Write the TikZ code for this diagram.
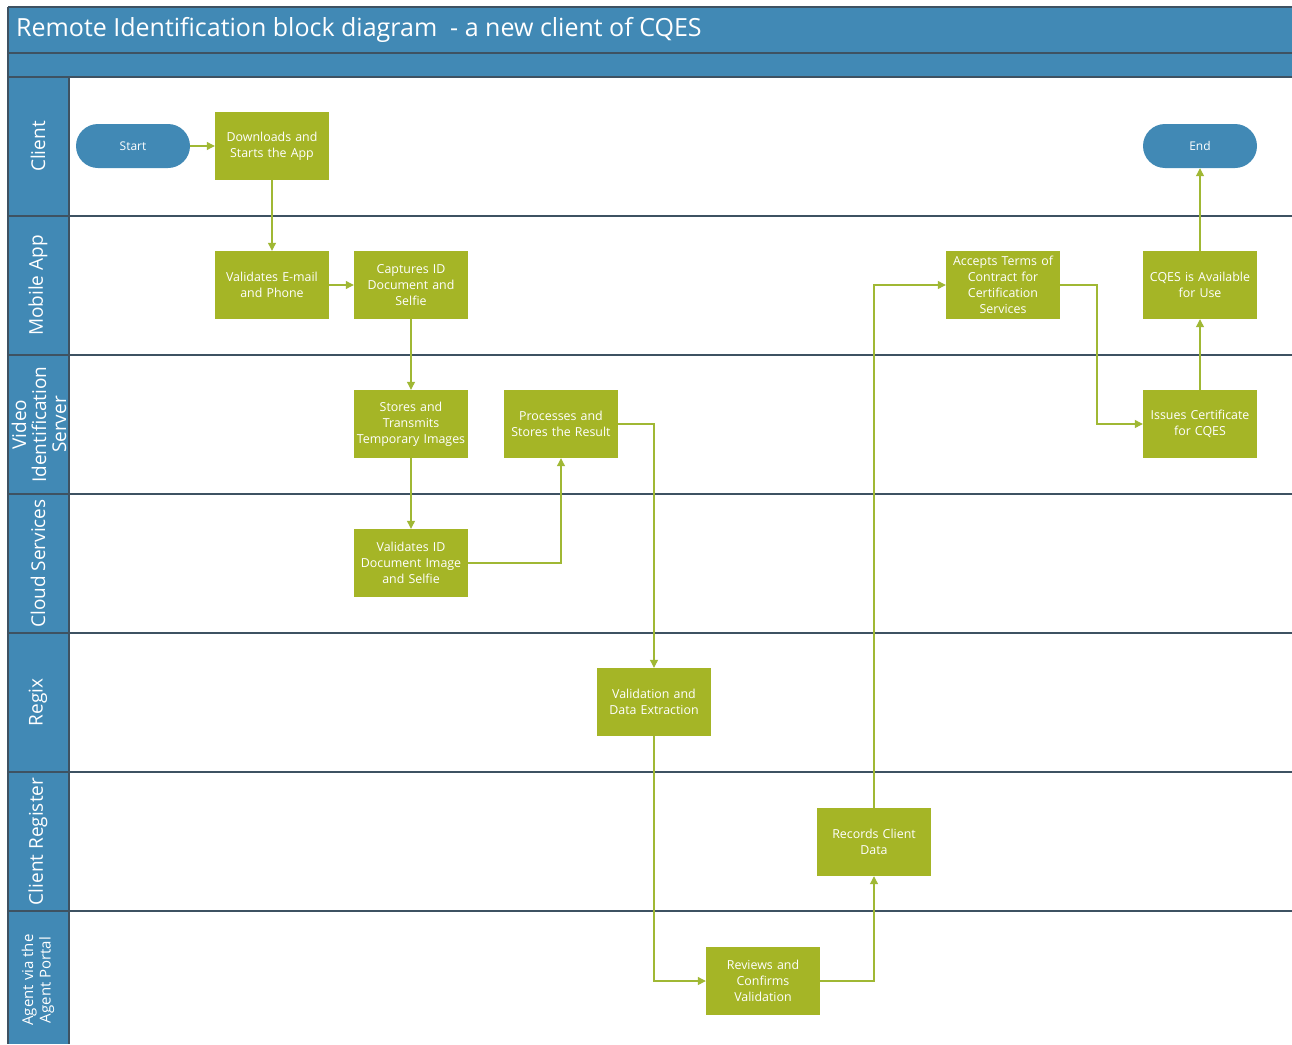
\documentclass[tikz,border=0pt]{standalone}
\usepackage{fontspec}
\setmainfont{Open Sans}
\usetikzlibrary{arrows.meta}
\definecolor{hdrblue}{RGB}{65,137,181}
\definecolor{lanedark}{RGB}{62,82,98}
\definecolor{boxgreen}{RGB}{165,181,38}
\definecolor{linegreen}{RGB}{160,184,52}
\tikzset{
  stepbox/.style={fill=boxgreen, draw=none, text=white, minimum width=114pt, minimum height=68pt, inner sep=1pt, align=center, text width=112pt, font=\fontsize{12.4}{15.8}\selectfont},
  term/.style={fill=hdrblue, draw=none, text=white, minimum width=114pt, minimum height=44pt, rounded corners=22pt, inner sep=0pt, font=\fontsize{12}{14}\selectfont},
  conn/.style={draw=linegreen, line width=1.1pt, -{Triangle[length=8pt,width=8pt]}},
  lanelbl/.style={rotate=90, text=white, align=center, font=\fontsize{19}{20}\selectfont},
  laneline/.style={draw=lanedark, line width=1.2pt}
}
\begin{document}
\begin{tikzpicture}[x=1pt,y=-1pt]
\useasboundingbox (0,0) rectangle (1292,1044);
\fill[white] (0,0) rectangle (1292,1044);
% header bars
\fill[hdrblue] (8,7) rectangle (1292,77);
\fill[hdrblue] (8,77) rectangle (69,1044);
\draw[laneline] (8,7) -- (1292,7);
\draw[laneline] (8,7) -- (8,1044);
\draw[laneline] (8,53) -- (1292,53);
\draw[laneline] (8,77) -- (1292,77);
\draw[laneline] (69,77) -- (69,1044);
\foreach \yy in {216,355,494,633,772,911} {\draw[laneline] (8,\yy) -- (1292,\yy);}
\node[anchor=west, text=white, font=\fontsize{25}{29}\selectfont, inner sep=0pt] (title) at (16,30) {Remote Identification block diagram \ - a new client of CQES};
% lane labels
\node[lanelbl] (lclient) at (38,146.5) {Client};
\node[lanelbl] (lmobile) at (38,285.5) {Mobile App};
\node[lanelbl] (lvideo) at (39,424.5) {Video\\Identification\\Server};
\node[lanelbl] (lcloud) at (38,563.5) {Cloud Services};
\node[lanelbl] (lregix) at (38,702.5) {Regix};
\node[lanelbl] (lreg) at (38,841.5) {Client Register};
\node[lanelbl, font=\fontsize{15}{17.5}\selectfont] (lagent) at (38,980) {Agent via the\\Agent Portal};
% nodes
\node[term] (start) at (133,146) {Start};
\node[stepbox] (dl) at (272,146) {Downloads and\\Starts the App};
\node[term] (end) at (1200,146) {End};
\node[stepbox] (vem) at (272,285) {Validates E-mail\\and Phone};
\node[stepbox] (cap) at (411,285) {Captures ID\\Document and\\Selfie};
\node[stepbox] (acc) at (1003,285) {Accepts Terms of\\Contract for\\Certification\\Services};
\node[stepbox] (cqa) at (1200,285) {CQES is Available\\for Use};
\node[stepbox] (sti) at (411,424) {Stores and\\Transmits\\Temporary Images};
\node[stepbox] (proc) at (561,424) {Processes and\\Stores the Result};
\node[stepbox] (iss) at (1200,424) {Issues Certificate\\for CQES};
\node[stepbox] (vid) at (411,563) {Validates ID\\Document Image\\and Selfie};
\node[stepbox] (vde) at (654,702) {Validation and\\Data Extraction};
\node[stepbox] (rec) at (874,842) {Records Client\\Data};
\node[stepbox] (rev) at (763,981) {Reviews and\\Confirms\\Validation};
\coordinate (t1) at (1097,285);
% connectors
\draw[conn] (start) -- (dl);
\draw[conn] (dl) -- (vem);
\draw[conn] (vem) -- (cap);
\draw[conn] (cap) -- (sti);
\draw[conn] (sti) -- (vid);
\draw[conn] (vid.east) -| (proc.south);
\draw[conn] (proc.east) -| (vde.north);
\draw[conn] (vde.south) |- (rev.west);
\draw[conn] (rev.east) -| (rec.south);
\draw[conn] (rec.north) |- (acc.west);
\draw[conn] (acc.east) -- (t1) |- (iss.west);
\draw[conn] (iss) -- (cqa);
\draw[conn] (cqa) -- (end);
\end{tikzpicture}
\end{document}
